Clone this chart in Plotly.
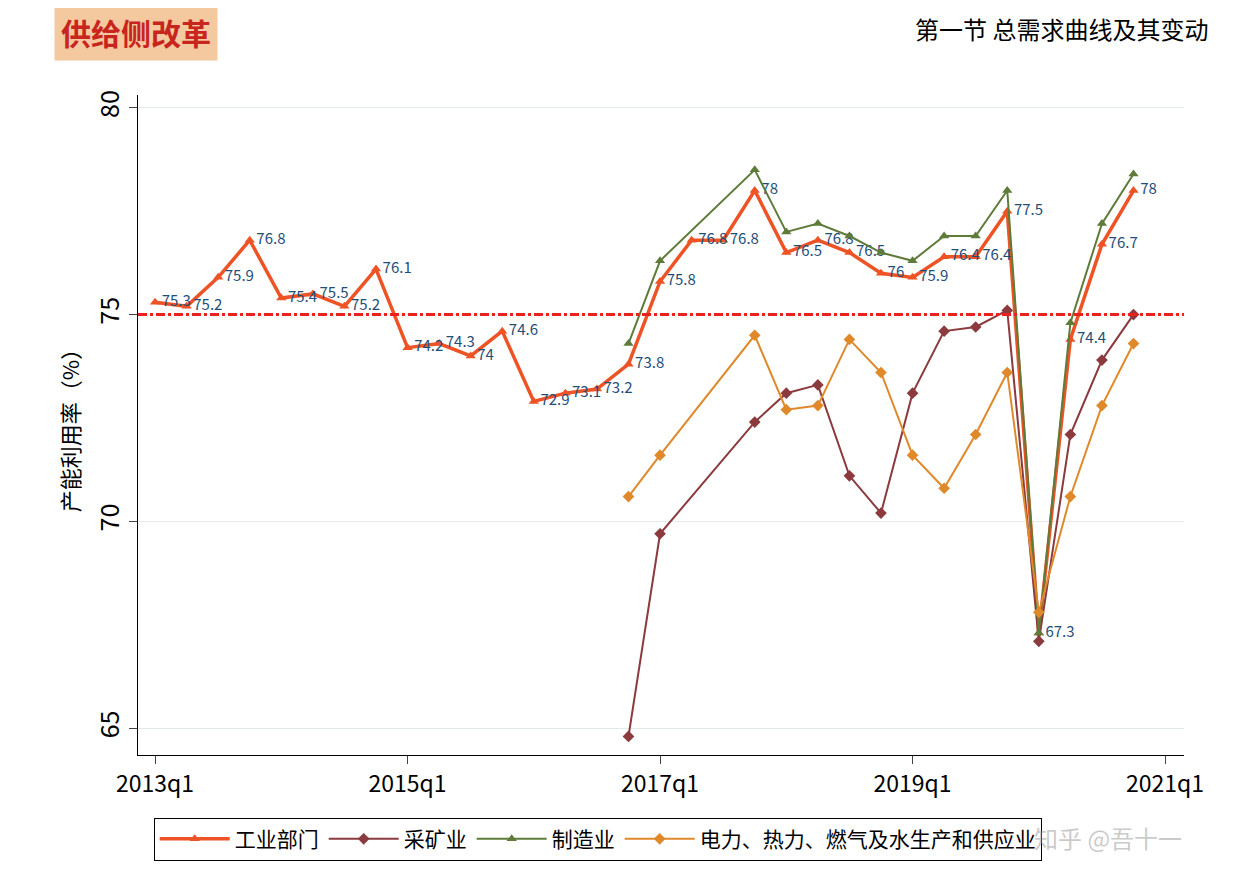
import plotly.graph_objects as go

quarters = [f"{y}q{q}" for y in range(2013, 2021) for q in range(1, 5)]
industry = [75.3, 75.2, 75.9, 76.8, 75.4, 75.5, 75.2, 76.1, 74.2, 74.3, 74.0, 74.6,
            72.9, 73.1, 73.2, 73.8, 75.8, 76.8, 76.8, 78.0, 76.5, 76.8, 76.5, 76.0,
            75.9, 76.4, 76.4, 77.5, 67.3, 74.4, 76.7, 78.0]
N = None
mining = [N]*15 + [64.8, 69.7, N, N, 72.4, 73.1, 73.3, 71.1, 70.2, 73.1, 74.6, 74.7, 75.1, 67.1, 72.1, 73.9, 75.0]
manuf = [N]*15 + [74.3, 76.3, N, N, 78.5, 77.0, 77.2, 76.9, 76.5, 76.3, 76.9, 76.9, 78.0, 67.3, 74.8, 77.2, 78.4]
power = [N]*15 + [70.6, 71.6, N, N, 74.5, 72.7, 72.8, 74.4, 73.6, 71.6, 70.8, 72.1, 73.6, 67.8, 70.6, 72.8, 74.3]
tick_labels = ["2013q1", "2015q1", "2017q1", "2019q1", "2021q1"]
tick_pos = [0, 8, 16, 24, 32]
names = ["工业部门", "采矿业", "制造业", "电力、热力、燃气及水生产和供应业"]

x = list(range(len(quarters)))
fig = go.Figure()
fig.add_trace(go.Scatter(x=x, y=industry, name=names[0], mode="lines+markers+text",
    line=dict(color="#EE5326", width=3.5), marker=dict(symbol="triangle-up", size=9),
    text=[f"{v:g}" for v in industry], textposition="middle right",
    textfont=dict(color="#1F4E79", size=15)))
fig.add_trace(go.Scatter(x=x, y=mining, name=names[1], mode="lines+markers", connectgaps=True,
    line=dict(color="#8B3A3E", width=2), marker=dict(symbol="diamond", size=9)))
fig.add_trace(go.Scatter(x=x, y=manuf, name=names[2], mode="lines+markers", connectgaps=True,
    line=dict(color="#5E7B3A", width=2), marker=dict(symbol="triangle-up", size=9)))
fig.add_trace(go.Scatter(x=x, y=power, name=names[3], mode="lines+markers", connectgaps=True,
    line=dict(color="#E0892B", width=2), marker=dict(symbol="diamond", size=9)))
fig.add_hline(y=75, line=dict(color="#E8221E", width=3, dash="dashdot"))

fig.update_layout(
    width=1236, height=886, paper_bgcolor="white", plot_bgcolor="white",
    margin=dict(l=130, r=60, t=87, b=139),
    font=dict(family="Noto Sans CJK SC, Liberation Sans", size=23, color="black"),
    xaxis=dict(range=[-0.54, 32.6], tickvals=tick_pos, ticktext=tick_labels, showgrid=False,
               showline=True, linecolor="black", ticks="outside", ticklen=8, zeroline=False),
    yaxis=dict(range=[64.35, 80.31], tickvals=[65, 70, 75, 80], tickangle=-90, showgrid=True,
               gridcolor="#E3EBE8", showline=True, linecolor="black", ticks="outside",
               ticklen=8, zeroline=False, tickfont=dict(size=25),
               title=dict(text="产能利用率（%）", font=dict(size=22), standoff=4)),
    legend=dict(orientation="h", x=0.015, y=-0.095, yanchor="top", bordercolor="black",
                borderwidth=1, font=dict(size=21), itemwidth=70),
    showlegend=True,
)
fig.add_annotation(xref="paper", yref="paper", x=-0.08, y=1.14, xanchor="left", yanchor="top",
    text="<b>供给侧改革</b>", showarrow=False, bgcolor="#F4C9A0",
    font=dict(size=30, color="#C8251E"), borderpad=6)
fig.add_annotation(xref="paper", yref="paper", x=1.025, y=1.13, xanchor="right", yanchor="top",
    text="第一节 总需求曲线及其变动", showarrow=False, font=dict(size=24))
fig.add_annotation(xref="paper", yref="paper", x=1.0, y=-0.155, xanchor="right",
    text="知乎 @吾十一", showarrow=False, font=dict(size=24, color="rgba(150,150,150,0.5)"))
fig.write_html("out.html")
